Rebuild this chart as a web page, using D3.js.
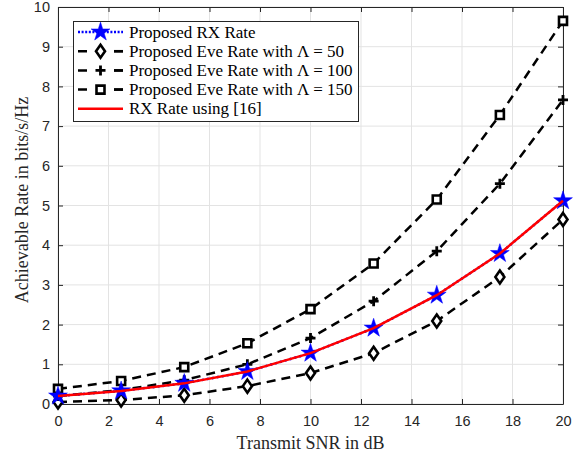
<!DOCTYPE html>
<html>
<head>
<meta charset="utf-8">
<script src="https://cdn.jsdelivr.net/npm/d3@7"></script>
<style>
  body { margin: 0; background: #fff; }
  svg { display: block; }
</style>
</head>
<body>
<svg width="581" height="459"></svg>
<script>
let snr = [0, 2.5, 5, 7.5, 10, 12.5, 15, 17.5, 20]
let rxRate = [0.2, 0.33, 0.52, 0.82, 1.28, 1.91, 2.74, 3.79, 5.12]
let eve50 = [0.05, 0.1, 0.22, 0.45, 0.78, 1.28, 2.09, 3.2, 4.65]
let eve100 = [0.2, 0.35, 0.6, 1.0, 1.66, 2.59, 3.85, 5.55, 7.66]
let eve150 = [0.38, 0.58, 0.93, 1.53, 2.39, 3.54, 5.15, 7.28, 9.65]
let rxRef = [0.2, 0.33, 0.52, 0.82, 1.28, 1.91, 2.74, 3.79, 5.12]
let xTicks = [0, 2, 4, 6, 8, 10, 12, 14, 16, 18, 20]
let yTicks = [0, 1, 2, 3, 4, 5, 6, 7, 8, 9, 10]
let legendLabels = [
  'Proposed RX Rate',
  'Proposed Eve Rate with Λ = 50',
  'Proposed Eve Rate with Λ = 100',
  'Proposed Eve Rate with Λ = 150',
  'RX Rate using [16]'
]

let mLeft = 58, mRight = 563, mTop = 7, mBottom = 404
let svg = d3.select('svg')
let x = d3.scaleLinear().domain([0, 20]).range([mLeft, mRight])
let y = d3.scaleLinear().domain([0, 10]).range([mBottom, mTop])

// grid
svg.append('g')
  .selectAll('line')
  .data(xTicks)
  .enter()
  .append('line')
  .attr('x1', d => x(d)).attr('x2', d => x(d))
  .attr('y1', mTop).attr('y2', mBottom)
  .attr('stroke', '#e3e3e3').attr('stroke-width', 1)
svg.append('g')
  .selectAll('line')
  .data(yTicks)
  .enter()
  .append('line')
  .attr('x1', mLeft).attr('x2', mRight)
  .attr('y1', d => y(d)).attr('y2', d => y(d))
  .attr('stroke', '#e3e3e3').attr('stroke-width', 1)

// axes
let tickFont = (g) => g.selectAll('text')
  .attr('font-family', 'Liberation Sans, Arial, sans-serif')
  .attr('font-size', 14.5)
  .attr('fill', '#262626')

let styleAxis = g => {
  g.select('.domain').attr('stroke', '#262626')
  g.selectAll('.tick line').attr('stroke', '#262626')
}

svg.append('g')
  .attr('transform', `translate(0,${mBottom})`)
  .call(d3.axisBottom(x).tickValues(xTicks).tickSizeInner(-5).tickSizeOuter(0).tickPadding(12))
  .call(styleAxis)
  .call(tickFont)
svg.append('g')
  .attr('transform', `translate(0,${mTop})`)
  .call(d3.axisTop(x).tickValues(xTicks).tickSizeInner(-5).tickSizeOuter(0).tickFormat(''))
  .call(styleAxis)
svg.append('g')
  .attr('transform', `translate(${mLeft},0)`)
  .call(d3.axisLeft(y).tickValues(yTicks).tickSizeInner(-5).tickSizeOuter(0).tickPadding(8))
  .call(styleAxis)
  .call(tickFont)
svg.append('g')
  .attr('transform', `translate(${mRight},0)`)
  .call(d3.axisRight(y).tickValues(yTicks).tickSizeInner(-5).tickSizeOuter(0).tickFormat(''))
  .call(styleAxis)

// labels
svg.append('text')
  .attr('x', (mLeft + mRight) / 2).attr('y', 449)
  .attr('text-anchor', 'middle')
  .attr('font-family', 'Liberation Serif, Times New Roman, serif')
  .attr('font-size', 18).attr('fill', '#262626')
  .text('Transmit SNR in dB')
svg.append('text')
  .attr('transform', `translate(28,200) rotate(-90)`)
  .attr('text-anchor', 'middle')
  .attr('font-family', 'Liberation Serif, Times New Roman, serif')
  .attr('font-size', 18).attr('fill', '#262626')
  .text('Achievable Rate in bits/s/Hz')

// markers
let star = d3.symbol().type(d3.symbolStar).size(110)
let diamond = 'M0,-6.5L4.5,0L0,6.5L-4.5,0Z'
let plus = 'M-5,0H5M0,-5V5'
let square = 'M-4,-4H4V4H-4Z'

function drawMarker(g, kind) {
  if (kind === 'star') g.append('path').attr('d', star).attr('fill', '#0000ff').attr('stroke', '#0000ff').attr('stroke-width', 0.5)
  if (kind === 'diamond') g.append('path').attr('d', diamond).attr('fill', '#fff').attr('stroke', '#000').attr('stroke-width', 2.6)
  if (kind === 'plus') g.append('path').attr('d', plus).attr('fill', 'none').attr('stroke', '#000').attr('stroke-width', 2.8)
  if (kind === 'square') g.append('path').attr('d', square).attr('fill', '#fff').attr('stroke', '#000').attr('stroke-width', 2.6)
}

let series = [
  { values: rxRate, color: '#0000ff', dash: '2,3', width: 2.5, marker: 'star' },
  { values: eve50, color: '#000', dash: '9,6', width: 2.5, marker: 'diamond' },
  { values: eve100, color: '#000', dash: '9,6', width: 2.5, marker: 'plus' },
  { values: eve150, color: '#000', dash: '9,6', width: 2.5, marker: 'square' },
  { values: rxRef, color: '#ff0000', dash: null, width: 2.5, marker: null }
]

let line = d3.line().x((d, i) => x(snr[i])).y(d => y(d))
let drawOrder = [1, 2, 3, 0, 4]
drawOrder.forEach(si => {
  let s = series[si]
  svg.append('path')
    .datum(s.values)
    .attr('d', line)
    .attr('fill', 'none')
    .attr('stroke', s.color)
    .attr('stroke-width', s.width)
    .attr('stroke-dasharray', s.dash)
  if (s.marker) {
    s.values.forEach((v, i) => {
      let g = svg.append('g').attr('transform', `translate(${x(snr[i])},${y(v)})`)
      drawMarker(g, s.marker)
    })
  }
})

// legend
let lg = svg.append('g')
lg.append('rect')
  .attr('x', 73.5).attr('y', 21.5).attr('width', 285).attr('height', 100)
  .attr('fill', '#fff').attr('stroke', '#262626').attr('stroke-width', 1)
legendLabels.forEach((label, i) => {
  let s = series[i]
  let ly = 32 + i * 19.2
  lg.append('line')
    .attr('x1', 78).attr('x2', 123).attr('y1', ly).attr('y2', ly)
    .attr('stroke', s.color).attr('stroke-width', s.width)
    .attr('stroke-dasharray', s.dash ? (i === 0 ? '2,1.6' : '9,27') : null)
  if (s.marker) {
    let g = lg.append('g').attr('transform', `translate(100.5,${ly})`)
    drawMarker(g, s.marker)
  }
  if (i > 0 && i < 4) {
    lg.append('line')
      .attr('x1', 114).attr('x2', 123).attr('y1', ly).attr('y2', ly)
      .attr('stroke', s.color).attr('stroke-width', s.width)
  }
  lg.append('text')
    .attr('x', 129).attr('y', ly + 5.5)
    .attr('font-family', 'Liberation Serif, Times New Roman, serif')
    .attr('font-size', 17).attr('fill', '#000')
    .text(label)
})
</script>
</body>
</html>
